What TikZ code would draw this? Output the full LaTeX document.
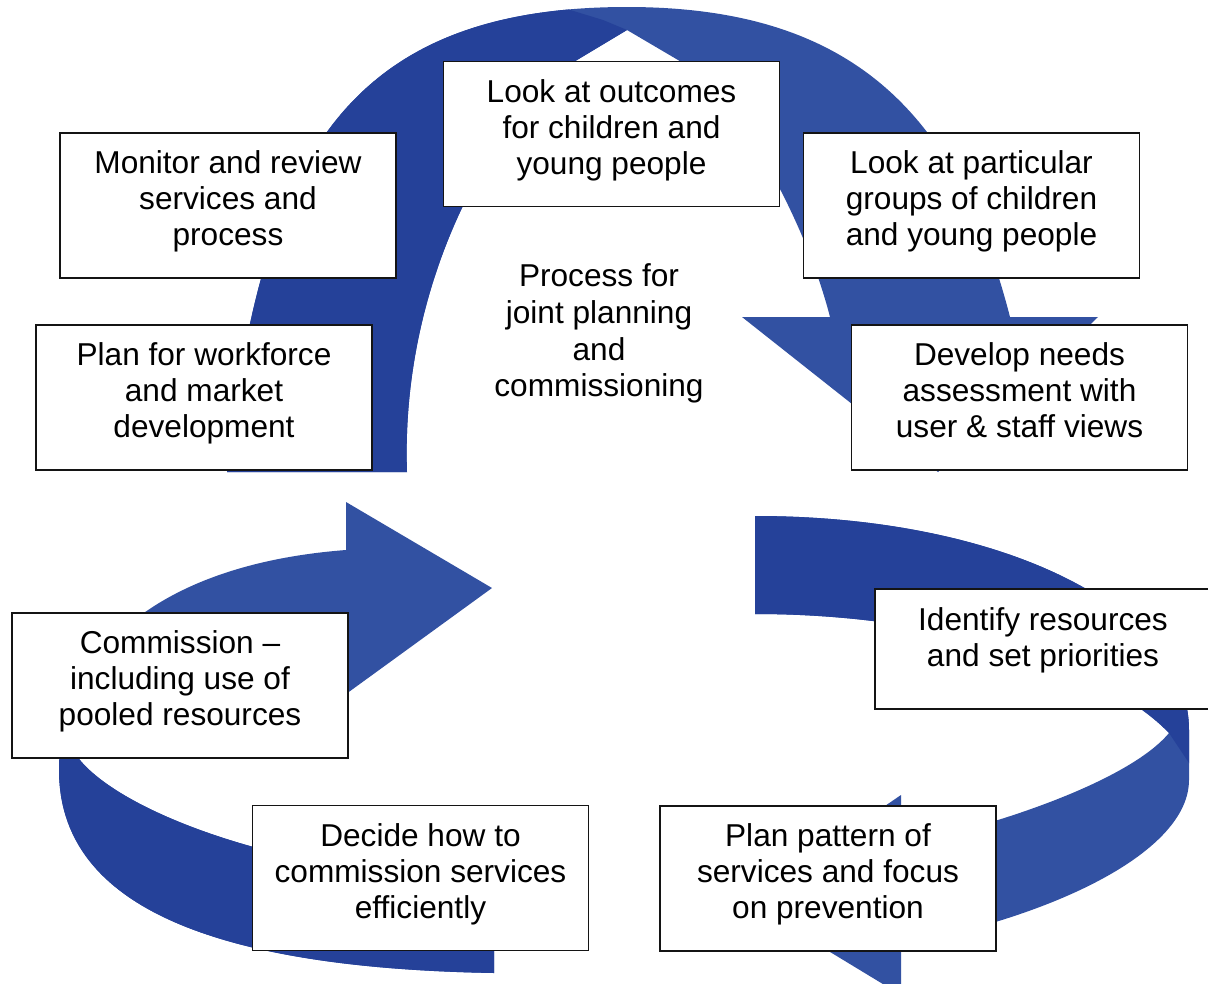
\documentclass[tikz,border=0pt]{standalone}
\usepackage{fontspec}
\setmainfont{Liberation Sans}
\usepackage{tikz}

\definecolor{arrowdark}{RGB}{37,65,153}
\definecolor{arrowlight}{RGB}{50,81,162}
\definecolor{boxframe}{RGB}{20,20,20}
\tikzset{
  stepbox/.style={rectangle, draw=boxframe, fill=white, line width=1pt,
    minimum width=6.72cm, minimum height=2.9cm, align=center,
    font=\fontsize{18}{20.5}\selectfont, inner sep=2pt,
    execute at end node={\rule[-8.4pt]{0pt}{0pt}}},
  centretext/.style={align=center, font=\fontsize{18}{20.9}\selectfont},
  darkpart/.style={fill=arrowdark},
  lightpart/.style={fill=arrowlight}
}

% outlines of the three curved arrows (tail, outer edge, head, inner edge)
\newcommand{\outlinetop}{(227,472) .. controls (260,172) and (337,7) .. (627,7)
  .. controls (842,7) and (955,103) .. (1010,317) -- (1098,317) -- (938,472) -- (742,317) -- (830,317)
  .. controls (806,223) and (739,96) .. (678,60) -- (627,30) -- (577,60)
  .. controls (505,105) and (400,270) .. (407,472) -- cycle}
\newcommand{\outlineright}{(755,516) .. controls (1005,516) and (1189,610) .. (1189,730) -- (1189,780)
  .. controls (1189,850) and (1060,915) .. (901,945) -- (901,995) -- (746,901) -- (901,795) -- (901,845)
  .. controls (1000,825) and (1130,780) .. (1169,733) .. controls (1109,670) and (950,614) .. (755,614) -- cycle}
\newcommand{\outlineleft}{(494,973) .. controls (200,968) and (59,900) .. (59,770)
  .. controls (59,660) and (150,565) .. (346,550) -- (346,502) -- (492,588) -- (335,702) -- (340,660)
  .. controls (200,680) and (80,720) .. (72,748) .. controls (100,805) and (280,878) .. (494,880) -- cycle}

\begin{document}
\begin{tikzpicture}[x=0.02cm, y=-0.02cm]
  \useasboundingbox (0,0) rectangle (1208,984);

  % Arrows: head half light, tail half dark
  \fill[lightpart] \outlinetop;
  \fill[lightpart] \outlineright;
  \fill[lightpart] \outlineleft;
  \begin{scope}
    \clip (-10,-10) -- (520,-10) -- (567,9) -- (603,20) -- (627,30) -- (627,520) -- (-10,520) -- cycle;
    \fill[darkpart] \outlinetop;
  \end{scope}
  \begin{scope}
    \clip (700,480) -- (1250,480) -- (1250,855) -- (1189,763) -- (1169,733) -- (1100,760) -- (700,760) -- cycle;
    \fill[darkpart] \outlineright;
  \end{scope}
  \begin{scope}
    \clip (0,750) rectangle (520,1000);
    \fill[darkpart] \outlineleft;
  \end{scope}

  % Steps
  \node[stepbox] (outcomes) at (611.5,134) {Look at outcomes\\for children and\\young people};
  \node[stepbox] (groups) at (971.5,205.5) {Look at particular\\groups of children\\and young people};
  \node[stepbox] (needs) at (1019.5,397.5) {Develop needs\\assessment with\\user \& staff views};
  \node[stepbox, minimum height=2.4cm, execute at end node={\rule[-14pt]{0pt}{0pt}}] (resources) at (1043,649) {Identify resources\\and set priorities};
  \node[stepbox] (pattern) at (828,878.5) {Plan pattern of\\services and focus\\on prevention};
  \node[stepbox] (decide) at (420.5,878) {Decide how to\\commission services\\efficiently};
  \node[stepbox] (commission) at (180,685.5) {Commission –\\including use of\\pooled resources};
  \node[stepbox] (workforce) at (204,397.5) {Plan for workforce\\and market\\development};
  \node[stepbox] (monitor) at (228,205.5) {Monitor and review\\services and\\process};

  \node[centretext] (process) at (599,333.5) {Process for\\joint planning\\and\\commissioning};
\end{tikzpicture}
\end{document}
